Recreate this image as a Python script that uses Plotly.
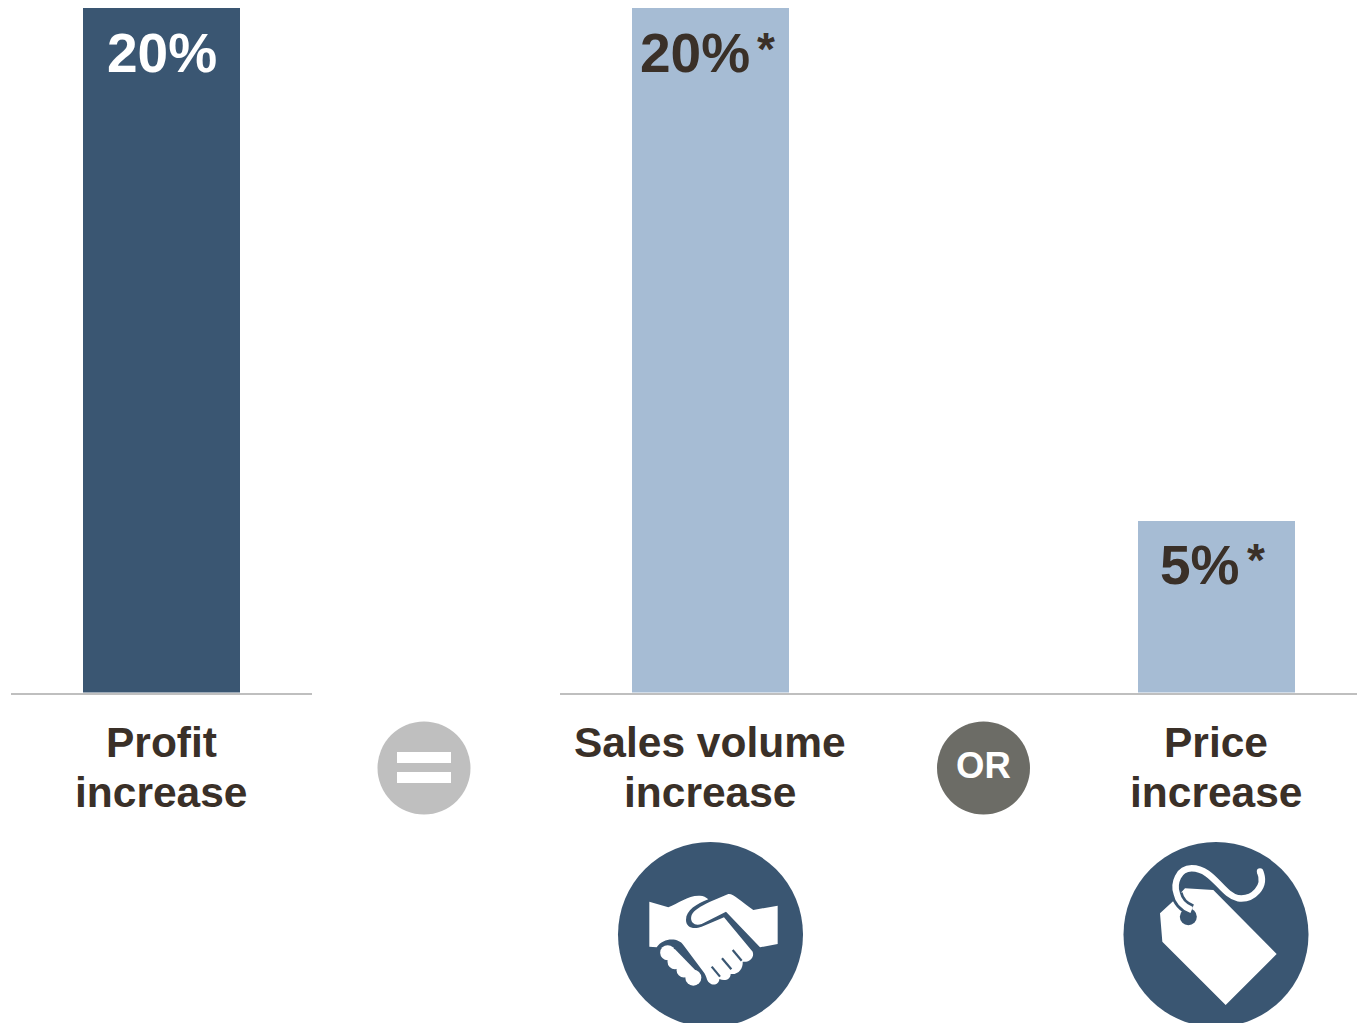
import re
import plotly.graph_objects as go

# Chart data
profit_category = ["Profit increase"]
profit_values = [20]
driver_categories = ["Sales volume increase", "Price increase"]
driver_values = [20, 5]
category_lines = {
    "Profit increase": ["Profit", "increase"],
    "Sales volume increase": ["Sales volume", "increase"],
    "Price increase": ["Price", "increase"],
}

W, H = 1357, 1023
DARK_BLUE = "#3A5672"
LIGHT_BLUE = "#A6BCD4"
INK = "#3A3028"
RULE = "#BFBFBF"
FONT = "Liberation Sans"

fig = go.Figure()
fig.add_bar(x=profit_category, y=profit_values, width=157 / 301,
            marker=dict(color=DARK_BLUE, line_width=0), xaxis="x", yaxis="y")
fig.add_bar(x=driver_categories, y=driver_values, width=157 / 506,
            marker=dict(color=LIGHT_BLUE, line_width=0), xaxis="x2", yaxis="y2")

# Value labels hang from the top of their bars
annotations = []


def value_label(text, xref, cat, val, dx, yshift, color, star):
    annotations.append(dict(text=f"<b>{text}</b>", xref=xref, yref=xref.replace("x", "y"),
                            x=cat, y=val, xanchor="center", yanchor="middle", xshift=dx,
                            yshift=yshift, showarrow=False,
                            font=dict(family=FONT, size=55, color=color)))
    if star:
        annotations.append(dict(text="<b>*</b>", xref=xref, yref=xref.replace("x", "y"),
                                x=cat, y=val, xanchor="center", yanchor="middle",
                                xshift=star[0], yshift=star[1], showarrow=False,
                                font=dict(family=FONT, size=46, color=color)))


value_label(f"{profit_values[0]}%", "x", profit_category[0], profit_values[0], 0, -45, "white", None)
value_label(f"{driver_values[0]}%", "x2", driver_categories[0], driver_values[0], -15.5, -45, INK, (56, -41))
value_label(f"{driver_values[1]}%", "x2", driver_categories[1], driver_values[1], -16, -43.5, INK, (40, -38.5))

# Two-line category captions under the baseline
for xref, cats in (("x", profit_category), ("x2", driver_categories)):
    for cat in cats:
        for line, ypx in zip(category_lines[cat], (742, 792)):
            annotations.append(dict(text=f"<b>{line}</b>", xref=xref, yref="y3", x=cat, y=ypx,
                                    xanchor="center", yanchor="middle", showarrow=False,
                                    font=dict(family=FONT, size=42.5, color=INK)))

annotations.append(dict(text="<b>OR</b>", xref="x3", yref="y3", x=983.5, y=765,
                        xanchor="center", yanchor="middle", showarrow=False,
                        font=dict(family=FONT, size=36.5, color="white")))


def disc(cx, cy, r, color):
    return dict(type="circle", xref="x3", yref="y3", x0=cx - r, x1=cx + r, y0=cy - r, y1=cy + r,
                fillcolor=color, line_width=0)


def rect(x0, y0, x1, y1, color):
    return dict(type="rect", xref="x3", yref="y3", x0=x0, x1=x1, y0=y0, y1=y1,
                fillcolor=color, line_width=0)


def icon_path(d, ox, oy):
    """Translate a path drawn on a 3x grid into canvas pixels."""
    out, is_x = [], True
    for tok in re.findall(r"[A-Za-z]|\d+\.?\d*", d):
        if tok.isalpha():
            out.append(tok)
            is_x = True
        else:
            v = float(tok) / 3 + (ox if is_x else oy)
            out.append(f"{v:.2f}")
            is_x = not is_x
    return " ".join(out)


def fill_path(d, ox, oy, color):
    return dict(type="path", xref="x3", yref="y3", path=icon_path(d, ox, oy),
                fillcolor=color, line_width=0)


def stroke_path(d, ox, oy, color, width):
    return dict(type="path", xref="x3", yref="y3", path=icon_path(d, ox, oy),
                line=dict(color=color, width=width))


shapes = [
    disc(424, 768, 46.5, "#BFBFBF"),
    rect(397, 752, 451, 763, "white"),
    rect(397, 772, 451, 783, "white"),
    disc(983.5, 768, 46.5, "#6C6C66"),
    disc(710.5, 934.5, 92.5, DARK_BLUE),
    disc(1216, 934.5, 92.5, DARK_BLUE),
]

# Handshake emblem
HX, HY = 600, 830
shapes += [
    fill_path("M148,215 L205,232 C235,220 265,195 300,197 Q315,198 325,208 "
              "C290,222 258,240 258,270 C258,292 280,300 305,290 L372,262 L458,365 "
              "C465,385 445,398 428,395 C430,415 415,435 392,432 C392,448 375,455 358,447 "
              "C358,462 340,470 328,458 C318,450 322,440 310,425 L250,345 "
              "C235,322 190,322 170,352 L148,350 Z", HX, HY, "white"),
    fill_path("M275,255 C282,240 300,230 330,215 L385,192 C400,190 420,212 460,240 "
              "L533,227 L533,342 L480,352 L378,245 L305,282 C282,290 268,275 275,255 Z",
              HX, HY, "white"),
    stroke_path("M398,360 L425,392", HX, HY, DARK_BLUE, 2.2),
    stroke_path("M366,385 L394,418", HX, HY, DARK_BLUE, 2.2),
    stroke_path("M335,410 L360,440", HX, HY, DARK_BLUE, 2.2),
    fill_path("M190,358 L225,358 L295,430 L275,450 L190,375 Z", HX, HY, "white"),
    disc(HX + 203 / 3, HY + 368 / 3, 7.5, "white"),
    disc(HX + 225 / 3, HY + 395 / 3, 7.5, "white"),
    disc(HX + 252 / 3, HY + 420 / 3, 7.5, "white"),
    disc(HX + 280 / 3, HY + 443 / 3, 8, "white"),
]

# Price tag emblem
TX, TY = 1110, 830
STRING = ("M450,124 C470,170 430,210 385,205 C335,195 310,115 245,115 "
          "C205,115 190,160 200,190 C205,215 220,230 245,240")
STRING_TAIL = "M200,190 C205,215 220,230 245,240"
shapes += [
    fill_path("M150,250 L190,213 L225,175 L310,180 L500,372 L347,525 L157,335 Z", TX, TY, "white"),
    disc(TX + 235 / 3, TY + 260 / 3, 8.5, DARK_BLUE),
    stroke_path(STRING_TAIL, TX, TY, DARK_BLUE, 12),
    stroke_path(STRING, TX, TY, "white", 6.5),
    disc(TX + 450 / 3, TY + 124 / 3, 3.2, "white"),
]

axis_hidden = dict(visible=False, showgrid=False, zeroline=False, fixedrange=True)
y_domain = [(H - 692.5) / H, (H - 8) / H]
cat_axis = dict(type="category", showline=True, linecolor=RULE, linewidth=2, ticks="",
                showticklabels=False, showgrid=False, zeroline=False)
value_axis = dict(axis_hidden, domain=y_domain, range=[0, 20])

fig.update_layout(
    width=W, height=H, autosize=False,
    margin=dict(l=0, r=0, t=0, b=0, pad=0),
    paper_bgcolor="white", plot_bgcolor="rgba(0,0,0,0)",
    showlegend=False, bargap=0,
    xaxis=dict(cat_axis, domain=[11 / W, 312 / W], range=[-0.5, 0.5], anchor="y"),
    yaxis=dict(value_axis, anchor="x"),
    xaxis2=dict(cat_axis, domain=[560 / W, 1], range=[-0.2974, 1.2777], anchor="y2"),
    yaxis2=dict(value_axis, anchor="x2"),
    xaxis3=dict(axis_hidden, domain=[0, 1], range=[0, W], anchor="y3"),
    yaxis3=dict(axis_hidden, domain=[0, 1], range=[H, 0], anchor="x3"),
    shapes=shapes,
    annotations=annotations,
)

fig.write_html("out.html", config=dict(displayModeBar=False))
